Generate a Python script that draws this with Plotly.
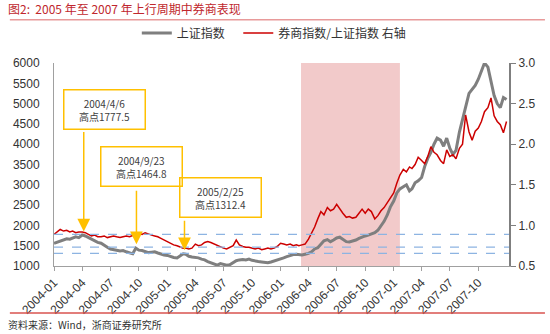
import plotly.graph_objects as go

# Sample dates: the 1st, 11th and 21st of every month, 2004-2007, plus the last session of 2007
dates = [f"{y}-{m:02d}-{d:02d}" for y in range(2004, 2008) for m in range(1, 13) for d in (1, 11, 21)]
dates.append("2007-12-31")

# 上证指数 (left axis)
sse_2004 = [1560, 1590, 1610, 1640, 1670, 1660, 1690, 1720, 1700, 1765, 1740, 1700,
            1640, 1610, 1580, 1560, 1500, 1460, 1420, 1410, 1390, 1370, 1380, 1350,
            1320, 1300, 1440, 1390, 1380, 1350, 1330, 1340, 1350, 1320, 1290, 1270]
sse_2005 = [1260, 1230, 1210, 1200, 1250, 1300, 1290, 1240, 1220, 1210, 1200, 1170,
            1150, 1110, 1080, 1050, 1020, 1060, 1040, 1020, 1030, 1080, 1130, 1150,
            1160, 1150, 1170, 1140, 1120, 1110, 1100, 1090, 1080, 1100, 1120, 1140]
sse_2006 = [1170, 1200, 1230, 1260, 1280, 1290, 1280, 1270, 1290, 1310, 1350, 1420,
            1450, 1550, 1620, 1650, 1600, 1640, 1690, 1710, 1660, 1600, 1590, 1610,
            1640, 1680, 1720, 1740, 1760, 1790, 1820, 1880, 1980, 2100, 2250, 2450]
sse_2007 = [2600, 2800, 2900, 2950, 3000, 2850, 2900, 3050, 3100, 3180, 3450, 3650,
            3800, 4000, 4150, 4100, 3950, 4150, 3900, 3750, 3850, 4300, 4600, 4900,
            5250, 5350, 5450, 5600, 5800, 6000, 5900, 5550, 5200, 5000, 4900, 5150, 5100]
sse = sse_2004 + sse_2005 + sse_2006 + sse_2007

# 券商指数/上证指数 (right axis)
ratio_2004 = [0.89, 0.92, 0.95, 0.93, 0.94, 0.92, 0.93, 0.91, 0.92, 0.92, 0.91, 0.89,
              0.87, 0.88, 0.86, 0.86, 0.87, 0.85, 0.86, 0.87, 0.86, 0.85, 0.86, 0.87,
              0.86, 0.88, 0.89, 0.90, 0.89, 0.91, 0.89, 0.88, 0.87, 0.86, 0.84, 0.82]
ratio_2005 = [0.80, 0.77, 0.76, 0.75, 0.73, 0.72, 0.72, 0.71, 0.72, 0.77, 0.75, 0.76,
              0.79, 0.80, 0.79, 0.77, 0.75, 0.74, 0.72, 0.71, 0.73, 0.75, 0.82, 0.76,
              0.74, 0.73, 0.73, 0.72, 0.71, 0.72, 0.70, 0.71, 0.72, 0.71, 0.72, 0.74]
ratio_2006 = [0.78, 0.77, 0.76, 0.77, 0.75, 0.76, 0.75, 0.76, 0.77, 0.83, 0.90, 0.98,
              1.08, 1.17, 1.13, 1.22, 1.18, 1.20, 1.26, 1.20, 1.15, 1.10, 1.11, 1.09,
              1.10, 1.15, 1.20, 1.15, 1.20, 1.17, 1.08, 1.12, 1.18, 1.22, 1.28, 1.33]
ratio_2007 = [1.40, 1.52, 1.62, 1.69, 1.66, 1.72, 1.70, 1.75, 1.84, 1.80, 1.76, 1.85,
              1.97, 1.90, 1.87, 1.80, 1.76, 1.93, 1.85, 1.87, 1.82, 1.95, 2.00, 2.36,
              2.15, 2.05, 2.16, 2.20, 2.28, 2.40, 2.45, 2.57, 2.35, 2.28, 2.24, 2.14, 2.28]
ratio = ratio_2004 + ratio_2005 + ratio_2006 + ratio_2007

# Quarterly tick labels on the time axis
tick_dates = [f"{y}-{m:02d}-01" for y in range(2004, 2008) for m in (1, 4, 7, 10)]
tick_labels = [d[:7] for d in tick_dates]

# Local highs of the index, marked with call-outs and reference lines
peak_dates = ["2004-04-06", "2004-09-23", "2005-02-25"]
peak_values = [1777.5, 1464.8, 1312.4]
peak_labels = ["2004/4/6<br>高点1777.5", "2004/9/23<br>高点1464.8", "2005/2/25<br>高点1312.4"]

# Broker-led rally window
rally_start, rally_end = "2006-03-08", "2007-01-21"

CJK = "Noto Sans CJK SC"
LAT = "Liberation Sans, Arial"
GOLD = "#FFC000"

fig = go.Figure()
fig.add_trace(go.Scatter(x=dates, y=sse, name="上证指数", mode="lines",
                         line=dict(color="#7F7F7F", width=3), legend="legend"))
fig.add_trace(go.Scatter(x=dates, y=ratio, name="券商指数/上证指数 右轴", mode="lines",
                         line=dict(color="#CC0000", width=1.5), yaxis="y2", legend="legend2"))

shapes = [dict(type="rect", xref="x", yref="paper", x0=rally_start, x1=rally_end,
               y0=0, y1=1, fillcolor="#F2CACA", line=dict(width=0), layer="below")]
for v in peak_values:
    shapes.append(dict(type="line", xref="paper", yref="y", x0=0, x1=1, y0=v, y1=v,
                       line=dict(color="#8DB4E2", width=1.2, dash="dash"), layer="above"))
# header and footer rules
shapes.append(dict(type="line", xref="paper", yref="paper", x0=-0.097, x1=1.079,
                   y0=1.213, y1=1.213, line=dict(color="#E89A9A", width=1.5)))
shapes.append(dict(type="line", xref="paper", yref="paper", x0=-0.097, x1=1.079,
                   y0=-0.232, y1=-0.232, line=dict(color="#D9534F", width=1.5)))

annotations = []
# call-out boxes (paper positions) and their arrows
box_pos = [(0.111, 0.773), (0.192, 0.488), (0.366, 0.335)]
arrow_len = [-104, -58, -34]
for (bx, by), lab, d, v, al in zip(box_pos, peak_labels, peak_dates, peak_values, arrow_len):
    annotations.append(dict(xref="paper", yref="paper", x=bx, y=by, xanchor="center",
                            yanchor="middle", text=lab, showarrow=False,
                            font=dict(family=CJK, size=10, color="#404040"),
                            bordercolor=GOLD, borderwidth=1.5, borderpad=2,
                            bgcolor="rgba(255,255,255,0)", width=76, height=34,
                            align="center", valign="middle"))
    annotations.append(dict(xref="x", yref="y", x=d, y=v, ax=0, ay=al, text="",
                            showarrow=True, arrowhead=2, arrowsize=1.7, arrowwidth=1.5,
                            arrowcolor=GOLD, standoff=3))

annotations.append(dict(xref="paper", yref="paper", x=-0.105, y=1.27, xanchor="left",
                        yanchor="middle", showarrow=False,
                        text="图2:  2005 年至 2007 年上行周期中券商表现",
                        font=dict(family=CJK, size=12, color="#C0272D")))
annotations.append(dict(xref="paper", yref="paper", x=-0.105, y=-0.29, xanchor="left",
                        yanchor="middle", showarrow=False,
                        text="资料来源：Wind，浙商证券研究所",
                        font=dict(family=CJK, size=10, color="#333333")))

legend_style = dict(orientation="h", y=1.148, xanchor="left", yanchor="middle",
                    font=dict(family=CJK, size=12, color="#333333"),
                    bgcolor="rgba(0,0,0,0)", itemwidth=30)

fig.update_layout(
    width=550, height=334,
    margin=dict(l=54, r=41, t=63, b=68),
    paper_bgcolor="white", plot_bgcolor="white",
    showlegend=True,
    legend=dict(x=0.182, **legend_style),
    legend2=dict(x=0.405, **legend_style),
    xaxis=dict(type="date", range=["2004-01-01", "2008-01-08"],
               tickvals=tick_dates, ticktext=tick_labels, tickangle=-45,
               ticks="outside", ticklen=4, tickcolor="#A0A0A0",
               showline=True, linecolor="#A0A0A0", linewidth=1, showgrid=False,
               zeroline=False, tickfont=dict(family=LAT, size=12, color="#333333")),
    yaxis=dict(range=[1000, 6000], dtick=500, showline=True, linecolor="#A0A0A0",
               linewidth=1, showgrid=False, zeroline=False,
               ticks="outside", ticklen=11, tickcolor="rgba(0,0,0,0)",
               tickfont=dict(family=LAT, size=12, color="#333333")),
    yaxis2=dict(range=[0.5, 3.0], dtick=0.5, tickformat=".1f", overlaying="y", side="right",
                showline=True, linecolor="#7F7F7F", linewidth=2, showgrid=False,
                zeroline=False, ticks="outside", ticklen=5, tickcolor="#7F7F7F",
                tickfont=dict(family=LAT, size=12, color="#333333")),
    shapes=shapes,
    annotations=annotations,
)

fig.write_html("out.html")
